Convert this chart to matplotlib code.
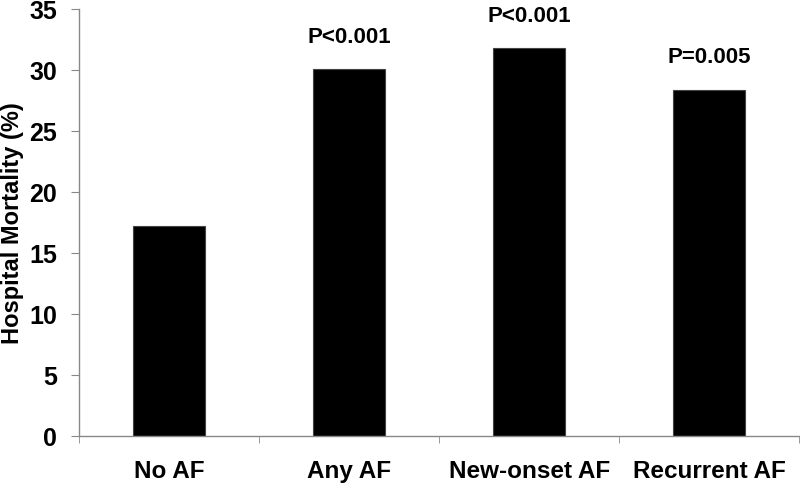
import matplotlib.pyplot as plt
import numpy as np

plt.rcParams['font.family'] = ['Liberation Sans', 'DejaVu Sans']
plt.rcParams['font.weight'] = 'bold'

# Data
categories = ['No AF', 'Any AF', 'New-onset AF', 'Recurrent AF']
mortality = [17.2, 30.1, 31.8, 28.4]
p_labels = ['', 'P<0.001', 'P<0.001', 'P=0.005']

fig = plt.figure(figsize=(8, 4.83), dpi=100)
ax = fig.add_axes([0.099, 0.097, 0.9, 0.884])

x = np.arange(len(categories))
ax.bar(x, mortality, width=0.4, color='black', edgecolor='#444444', linewidth=0.8)

for xi, val, lab in zip(x, mortality, p_labels):
    if lab:
        ax.text(xi, val + 2.6, lab, ha='center', va='center', fontsize=16, fontweight='bold')

ax.set_xlim(-0.5, 3.5)
ax.set_ylim(0, 35)
ax.set_yticks(np.arange(0, 36, 5))
ax.set_xticks(x)
ax.set_xticklabels(categories, fontsize=17.5, fontweight='bold')
ax.set_xticks(np.arange(-0.5, 4, 1.0), minor=True)
ax.tick_params(axis='x', which='major', length=0, pad=17)
ax.tick_params(axis='x', which='minor', length=5, direction='out', color='#888888')
ax.tick_params(axis='y', length=6, color='#888888', labelsize=18, pad=10)
for t in ax.get_yticklabels():
    t.set_fontweight('bold')

ax.set_ylabel('Hospital Mortality (%)', fontsize=17, fontweight='bold', labelpad=4)

for s in ['top', 'right']:
    ax.spines[s].set_visible(False)
for s in ['left', 'bottom']:
    ax.spines[s].set_color('#888888')
    ax.spines[s].set_linewidth(1)

fig.savefig('out.png', dpi=100)
